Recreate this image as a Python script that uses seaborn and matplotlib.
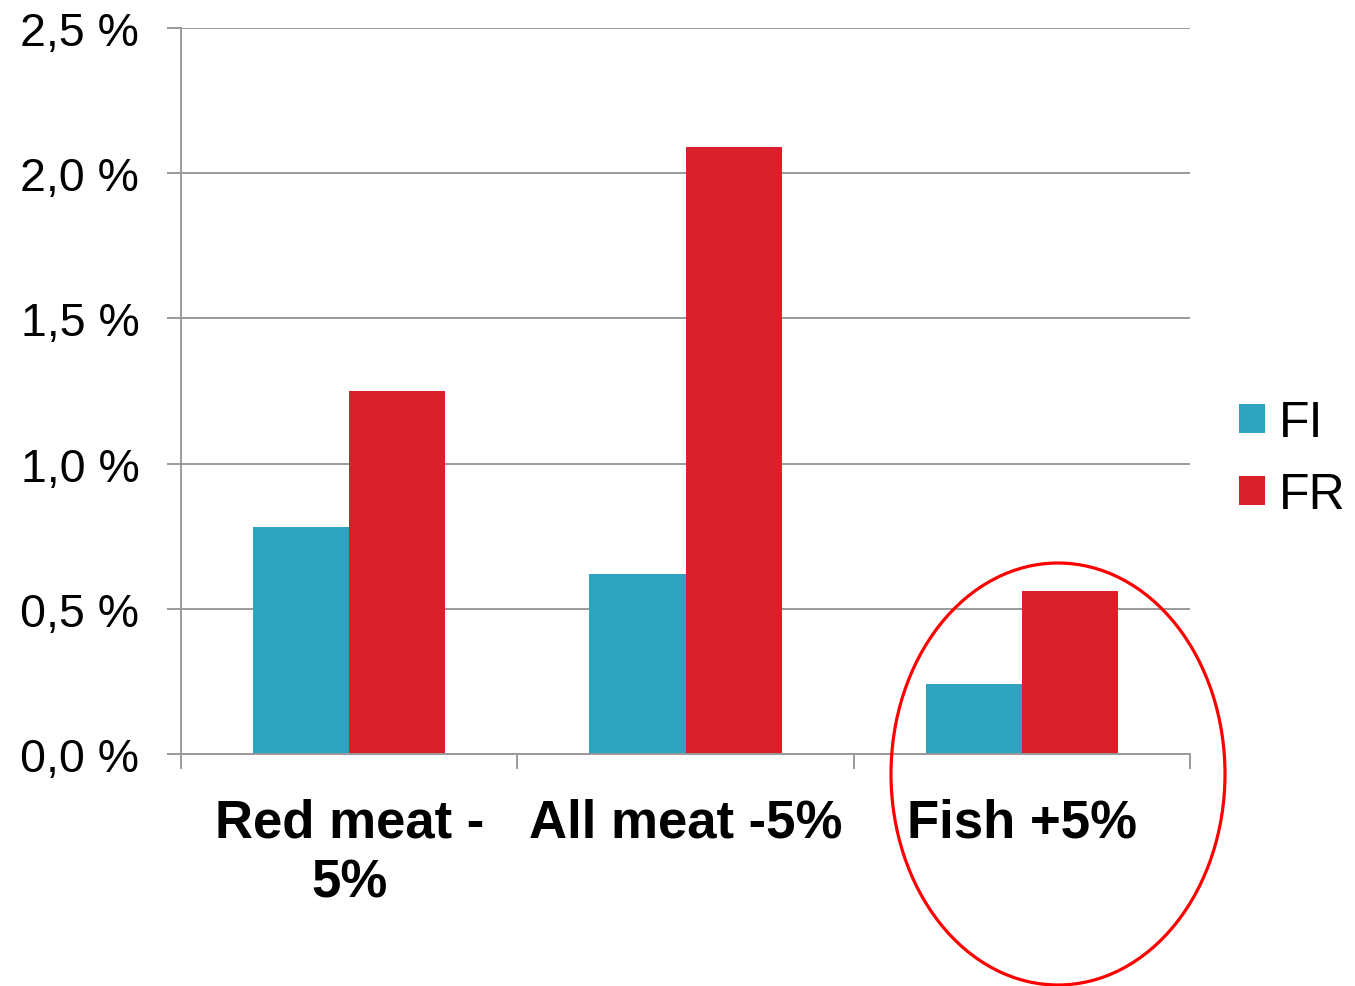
import matplotlib
matplotlib.use("Agg")
import matplotlib.pyplot as plt
from matplotlib.patches import Ellipse
from matplotlib.ticker import FixedLocator, FuncFormatter
import seaborn as sns
import pandas as pd

# Change in the indicator per dietary scenario, by country
categories = ["Red meat -\n5%", "All meat -5%", "Fish +5%"]
countries = ["FI", "FR"]
fi_values = [0.78, 0.62, 0.24]
fr_values = [1.25, 2.09, 0.56]
y_ticks = [0.0, 0.5, 1.0, 1.5, 2.0, 2.5]

palette = {"FI": "#2EA3C0", "FR": "#DA202A"}

df = pd.DataFrame({
    "scenario": categories * 2,
    "country": ["FI"] * 3 + ["FR"] * 3,
    "value": fi_values + fr_values,
})

sns.set_theme(style="white")
plt.rcParams["font.family"] = ["Liberation Sans", "DejaVu Sans"]
plt.rcParams["text.color"] = "black"

fig = plt.figure(figsize=(13.55, 9.87), dpi=100)
ax = fig.add_axes([181 / 1355, 1 - 755 / 987, (1190 - 181) / 1355, (755 - 29) / 987])

sns.barplot(data=df, x="scenario", y="value", hue="country", order=categories,
            hue_order=countries, palette=palette, width=0.571, saturation=1,
            linewidth=0, ax=ax)

grid_color = "#9A9A9A"
ax.set_xlim(-0.5, 2.5)
ax.set_ylim(0, 2.5)
ax.yaxis.set_major_locator(FixedLocator(y_ticks))
ax.yaxis.set_major_formatter(FuncFormatter(lambda v, _: f"{v:.1f} %".replace(".", ",")))
ax.yaxis.grid(True, color=grid_color, linewidth=1.4)
ax.set_axisbelow(True)

for side in ["top", "right"]:
    ax.spines[side].set_visible(False)
for side in ["left", "bottom"]:
    ax.spines[side].set_color(grid_color)
    ax.spines[side].set_linewidth(1.4)

ax.tick_params(axis="y", which="major", length=10, width=1.4, color=grid_color,
               pad=20, labelsize=33.5, labelcolor="black", left=True)
ax.tick_params(axis="x", which="major", length=0, pad=31, labelsize=38,
               labelcolor="black")
ax.xaxis.set_minor_locator(FixedLocator([-0.5, 0.5, 1.5, 2.5]))
ax.tick_params(axis="x", which="minor", length=11, width=1.4, color=grid_color,
               bottom=True)
for lbl in ax.get_xticklabels():
    lbl.set_fontweight("bold")
    lbl.set_linespacing(1.28)

ax.set_xlabel("")
ax.set_ylabel("")

handles, labels = ax.get_legend_handles_labels()
leg = ax.legend(handles, labels, loc="center left",
                bbox_to_anchor=(1239 / 1355, 1 - 460 / 987),
                bbox_transform=fig.transFigure, frameon=False, fontsize=36,
                handlelength=0.52, handleheight=0.52, handletextpad=0.28,
                labelspacing=0.52, borderaxespad=0, borderpad=0)
for t in leg.get_texts():
    t.set_color("black")

# Highlight ring around the fish scenario
ring = Ellipse((1058 / 1355, 1 - 775 / 987), 334 / 1355, 422 / 987,
               transform=fig.transFigure, fill=False, edgecolor="#FF0000",
               linewidth=2.3, clip_on=False)
fig.add_artist(ring)

fig.savefig("out.png", dpi=100, facecolor="white")
